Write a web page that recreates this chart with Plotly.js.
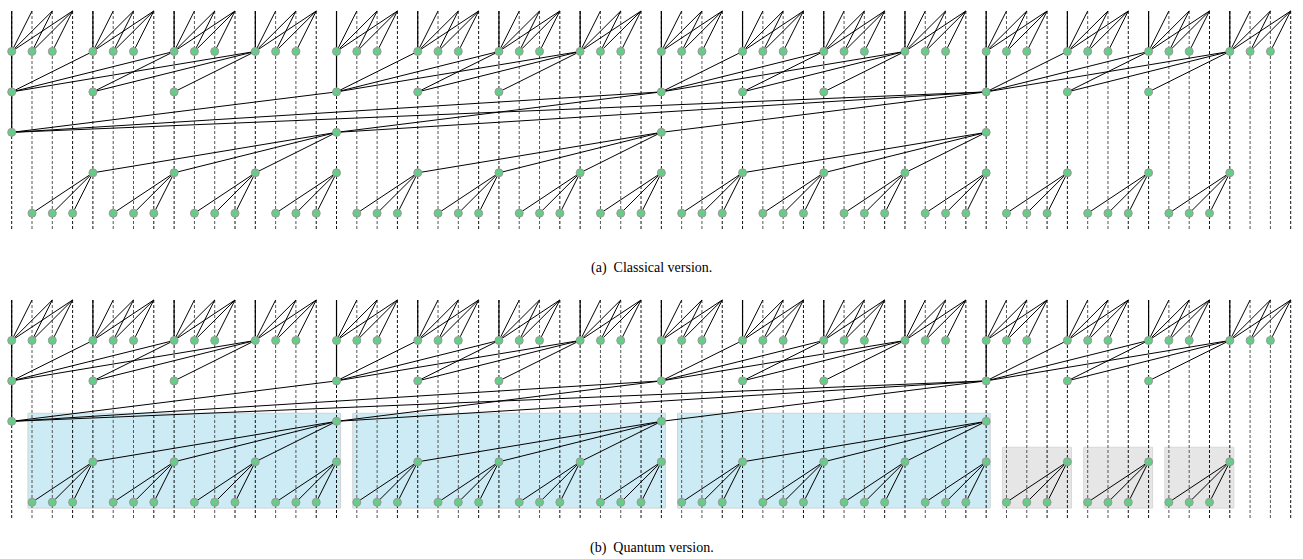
<!DOCTYPE html>
<html>
<head>
<meta charset="utf-8">
<script src="https://cdn.plot.ly/plotly-3.0.1.min.js"></script>
<style>html,body{margin:0;padding:0;background:#fff;}#chart{width:1303px;height:559px;}</style>
</head>
<body>
<div id="chart"></div>
<script>
// ---- diagram data (column index, level index) ----
const columns = Array.from({length: 64}, (_, i) => i);
const row1Cols = [0,1,2,4,5,6,8,9,10,12,13,14,16,17,18,20,21,22,24,25,26,28,29,30,32,33,34,36,37,38,40,41,42,44,45,46,48,49,50,52,53,54,56,57,58,60,61,62];
const row2Cols = [0,4,8,16,20,24,32,36,40,48,52,56];
const row3Cols = [0,16,32,48];
const row4Cols = [4,8,12,16,20,24,28,32,36,40,44,48,52,56,60];
const row5Cols = [1,2,3,5,6,7,9,10,11,13,14,15,17,18,19,21,22,23,25,26,27,29,30,31,33,34,35,37,38,39,41,42,43,45,46,47,49,50,51,53,54,55,57,58,59];

// sibling fan inside a group of four: [from sibling, to sibling]
const fanPairs = [[0,1],[0,2],[0,3],[1,2],[1,3],[2,3]];
const topGroups = [0,4,8,12,16,20,24,28,32,36,40,44,48,52,56,60]; // row1 -> row0, step 1
const midGroups = [0,16,32,48];                                    // row2 -> row1, step 4
const rootGroups = [0];                                            // row3 -> row2, step 16

// lower tree: parents and their children offsets
const leafParents = [4,8,12,16,20,24,28,32,36,40,44,48,52,56,60];  // row4 -> row5 (c-3..c-1)
const branchParents = [16,32,48];                                  // row3 -> row4 (c-12,c-8,c-4)

// solid vertical spans [col list, to level]
const solidToRow1 = [4,8,12,20,24,28,36,40,44,52,56,60];
const solidToRow2 = [16,32,48];
const solidToRow3 = [0];

// quantum version boxes [first col, last col]
const blueBoxes = [[1,16],[17,32],[33,48]];
const greyBoxes = [[49,52],[53,56],[57,60]];

const captions = ["(a)  Classical version.", "(b)  Quantum version."];

// ---- geometry ----
const BOTTOM = 5.414;
const Q = 7.145;
const panels = [0, Q];

const traces = [];
function segTrace(segs, off, color, width, dash) {
  const x = [], y = [];
  segs.forEach(s => { x.push(s[0], s[2], null); y.push(s[1] + off, s[3] + off, null); });
  return {type: 'scatter', mode: 'lines', x, y, hoverinfo: 'skip', showlegend: false,
          line: {color, width, dash: dash || 'solid'}};
}

panels.forEach(off => {
  const blackV = [], greyV = [];
  columns.forEach(c => {
    const seg = [c, 0, c, BOTTOM];
    if (c % 4 === 0 || c % 4 === 3) blackV.push(seg); else greyV.push(seg);
  });
  traces.push(segTrace(greyV, off, '#555555', 1, '3px,2px'));
  traces.push(segTrace(blackV, off, '#111111', 1, '3px,2px'));

  const solid = [];
  solidToRow1.forEach(c => solid.push([c, 0, c, 1]));
  solidToRow2.forEach(c => solid.push([c, 0, c, 2]));
  solidToRow3.forEach(c => solid.push([c, 0, c, 3]));
  traces.push(segTrace(solid, off, '#000000', 1.2));

  const edges = [];
  topGroups.forEach(b => fanPairs.forEach(p => edges.push([b + p[0], 1, b + p[1], 0])));
  midGroups.forEach(b => fanPairs.forEach(p => edges.push([b + p[0]*4, 2, b + p[1]*4, 1])));
  rootGroups.forEach(b => fanPairs.forEach(p => edges.push([b + p[0]*16, 3, b + p[1]*16, 2])));
  leafParents.forEach(c => [3,2,1].forEach(d => edges.push([c, 4, c - d, 5])));
  branchParents.forEach(c => [12,8,4].forEach(d => edges.push([c, 3, c - d, 4])));
  traces.push(segTrace(edges, off, '#000000', 1));

  const nx = [], ny = [];
  [[row1Cols,1],[row2Cols,2],[row3Cols,3],[row4Cols,4],[row5Cols,5]].forEach(([cols, lv]) => {
    cols.forEach(c => { nx.push(c); ny.push(lv + off); });
  });
  traces.push({type: 'scatter', mode: 'markers', x: nx, y: ny, hoverinfo: 'skip', showlegend: false,
               marker: {size: 8, color: '#66cc88', line: {color: '#999999', width: 1}}});
});

const shapes = [];
const pad = 0.2;
blueBoxes.forEach(b => shapes.push({type: 'rect', layer: 'below', xref: 'x', yref: 'y',
  x0: b[0] - pad, x1: b[1] + pad, y0: Q + 3 - 0.2, y1: Q + 5 + 0.145,
  fillcolor: '#cdebf5', line: {color: '#d2d2d2', width: 1}}));
greyBoxes.forEach(b => shapes.push({type: 'rect', layer: 'below', xref: 'x', yref: 'y',
  x0: b[0] - pad, x1: b[1] + pad, y0: Q + 4 - 0.36, y1: Q + 5 + 0.145,
  fillcolor: '#e6e6e6', line: {color: '#d8d8d8', width: 1}}));

const capFont = {family: '"Liberation Serif", "Times New Roman", serif', size: 14, color: '#000'};
const annotations = [
  {text: captions[0], x: 0.5, xref: 'paper', y: 6.354, yref: 'y', showarrow: false, font: capFont},
  {text: captions[1], x: 0.5, xref: 'paper', y: 13.276, yref: 'y', showarrow: false, font: capFont}
];

const layout = {
  width: 1303, height: 559,
  margin: {l: 0, r: 0, t: 0, b: 0},
  paper_bgcolor: '#ffffff', plot_bgcolor: '#ffffff',
  xaxis: {range: [-0.576, 63.606], visible: false, fixedrange: true},
  yaxis: {range: [13.548, -0.272], visible: false, fixedrange: true},
  shapes, annotations, showlegend: false
};

Plotly.newPlot('chart', traces, layout, {staticPlot: true, displayModeBar: false});
</script>
</body>
</html>
